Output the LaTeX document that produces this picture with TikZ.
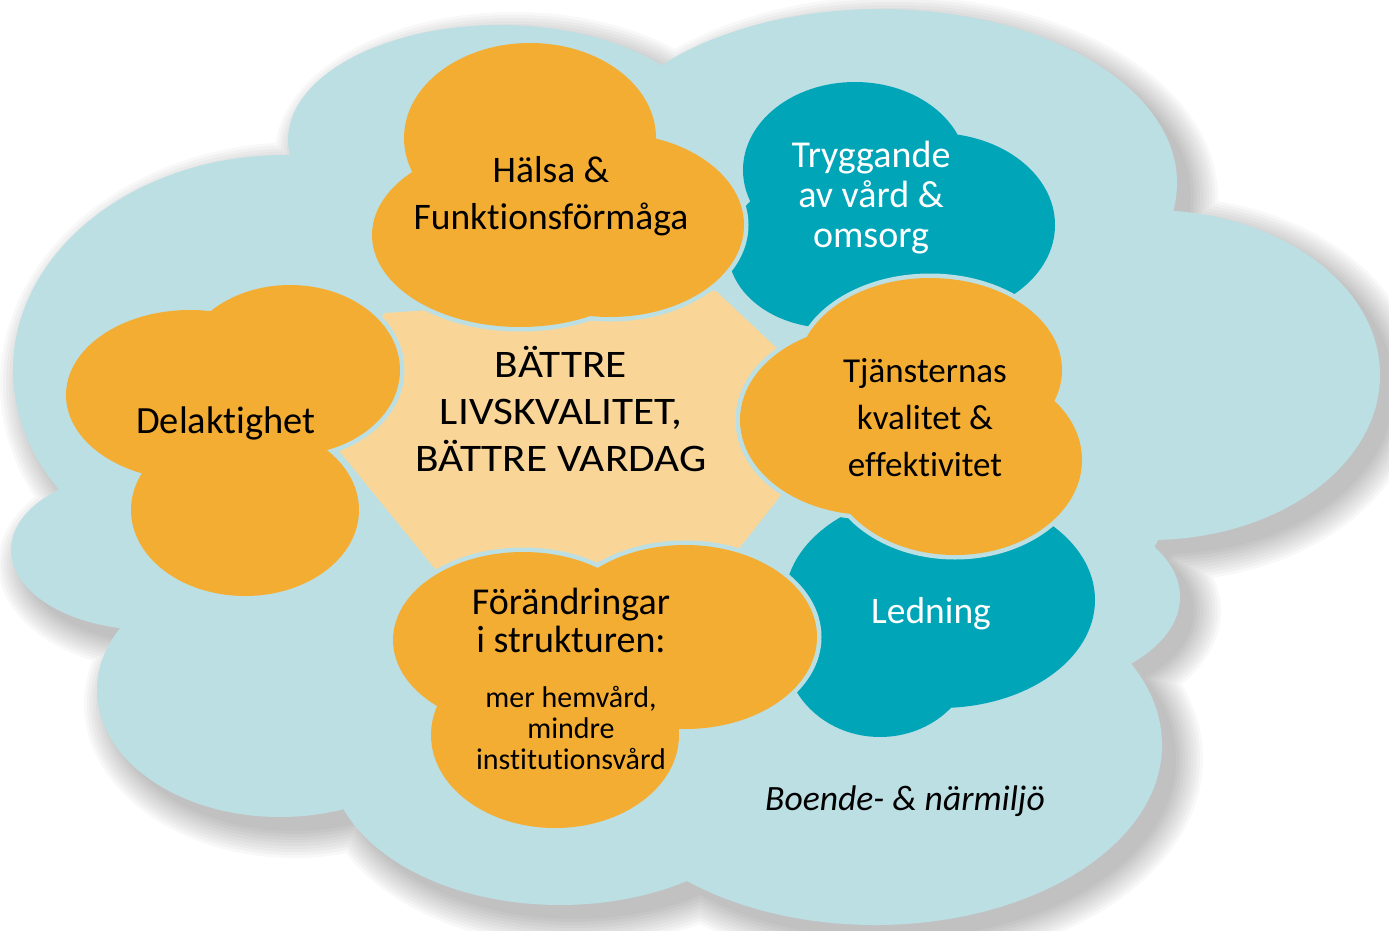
\documentclass[tikz,border=0pt]{standalone}
\usepackage{fontspec}
\setmainfont{Carlito}[Ligatures=NoCommon]
\newfontfamily\widecaps{Carlito}[Ligatures=NoCommon, FakeStretch=1.11]

\definecolor{skyblue}{RGB}{188,223,228}
\definecolor{sunorange}{RGB}{244,173,51}
\definecolor{seateal}{RGB}{0,166,184}
\definecolor{paleorange}{RGB}{249,214,152}

% ellipse lists: centre x/centre y/x radius/y radius
\def\skycloud{500/140/212/115, 880/183/297/174, 1150/375/230/165, 1010/597/170/95, 875/745/287/180, 560/760/230/145, 280/690/183/127, 150/550/139/80, 285/370/272/215, 700/450/480/300}
\def\trycloud{855/170/112/88, 935/225/120/92, 830/250/102/78}
\def\ledcloud{940/600/155/108, 880/650/95/87}
\def\halcloud{530/138/126/95, 520/235/148/92, 610/225/134/92}
\def\tjacloud{930/370/132/92, 955/460/127/95, 870/420/130/95}
\def\forcloud{523/640/130/88, 685/637/132/92, 555/735/124/93}
\def\delcloud{190/395/124/85, 290/370/110/85, 245/510/114/86}

\tikzset{
  rim/.style={draw=skyblue, line width=9},
  cloudtext/.style={align=center, inner sep=0pt, font=\fontsize{37.5}{47}\selectfont},
  whitetext/.style={cloudtext, text=white, font=\fontsize{38}{40}\selectfont},
}

\begin{document}
\begin{tikzpicture}[x=1pt,y=-1pt]
\useasboundingbox (0,0) rectangle (1389,931);

% soft shadow of the big cloud
\foreach \g in {0,3,...,27}
  \fill[black,opacity=0.028] \foreach \cx/\cy/\rx/\ry in \skycloud {(\cx+14,\cy+14) ellipse [x radius=\rx+\g, y radius=\ry+\g]};
\fill[skyblue] \foreach \cx/\cy/\rx/\ry in \skycloud {(\cx,\cy) ellipse [x radius=\rx, y radius=\ry]};

% centre field
\fill[paleorange] (385,313) -- (716,291) -- (800,370) -- (785,490) -- (730,560) -- (440,575) -- (340,452) -- (345,360) -- cycle;

% teal clouds
\path[rim] \foreach \cx/\cy/\rx/\ry in \trycloud {(\cx,\cy) ellipse [x radius=\rx, y radius=\ry]};
\fill[seateal] \foreach \cx/\cy/\rx/\ry in \trycloud {(\cx,\cy) ellipse [x radius=\rx, y radius=\ry]};
\path[rim] \foreach \cx/\cy/\rx/\ry in \ledcloud {(\cx,\cy) ellipse [x radius=\rx, y radius=\ry]};
\fill[seateal] \foreach \cx/\cy/\rx/\ry in \ledcloud {(\cx,\cy) ellipse [x radius=\rx, y radius=\ry]};

% orange clouds
\path[rim] \foreach \cx/\cy/\rx/\ry in \halcloud {(\cx,\cy) ellipse [x radius=\rx, y radius=\ry]};
\fill[sunorange] \foreach \cx/\cy/\rx/\ry in \halcloud {(\cx,\cy) ellipse [x radius=\rx, y radius=\ry]};
\path[rim] \foreach \cx/\cy/\rx/\ry in \tjacloud {(\cx,\cy) ellipse [x radius=\rx, y radius=\ry]};
\fill[sunorange] \foreach \cx/\cy/\rx/\ry in \tjacloud {(\cx,\cy) ellipse [x radius=\rx, y radius=\ry]};
\path[rim] \foreach \cx/\cy/\rx/\ry in \forcloud {(\cx,\cy) ellipse [x radius=\rx, y radius=\ry]};
\fill[sunorange] \foreach \cx/\cy/\rx/\ry in \forcloud {(\cx,\cy) ellipse [x radius=\rx, y radius=\ry]};
\path[rim] \foreach \cx/\cy/\rx/\ry in \delcloud {(\cx,\cy) ellipse [x radius=\rx, y radius=\ry]};
\fill[sunorange] \foreach \cx/\cy/\rx/\ry in \delcloud {(\cx,\cy) ellipse [x radius=\rx, y radius=\ry]};

% texts
\node[cloudtext, font=\widecaps\fontsize{39}{47}\selectfont] (centre) at (561,409) {BÄTTRE\\LIVSKVALITET,\\BÄTTRE VARDAG};
\node[cloudtext] (halsa) at (551,196) {Hälsa \&\\Funktionsförmåga};
\node[whitetext] (trygg) at (871,198) {Tryggande\\av vård \&\\omsorg};
\node[cloudtext, font=\fontsize{35}{47}\selectfont] (tjanst) at (925,418) {Tjänsternas\\kvalitet \&\\effektivitet};
\node[cloudtext, anchor=base, font=\fontsize{38.5}{47}\selectfont] (delakt) at (226,433) {Delaktighet};
\node[whitetext, anchor=base, font=\fontsize{37.5}{40}\selectfont] (ledning) at (931,623) {Ledning};
\node[cloudtext, font=\fontsize{38}{38}\selectfont] (forhead) at (571,620) {Förändringar\\i strukturen:};
\node[cloudtext, font=\fontsize{30}{31}\selectfont] (forbody) at (571,728) {mer hemvård,\\mindre\\institutionsvård};
\node[cloudtext, anchor=base, font=\fontsize{35.6}{40}\itshape] (boende) at (905,810) {Boende- \& närmiljö};
\end{tikzpicture}
\end{document}
